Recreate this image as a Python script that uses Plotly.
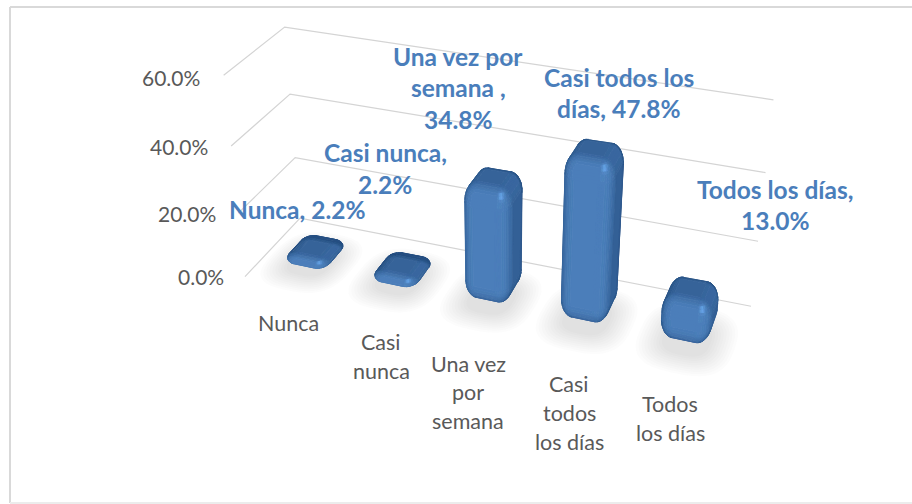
import numpy as np
import plotly.graph_objects as go

# ---- data ----
categories = ["Nunca", "Casi nunca", "Una vez por semana", "Casi todos los días", "Todos los días"]
values = [2.2, 2.2, 34.8, 47.8, 13.0]
tick_values = [0, 20, 40, 60]
tick_labels = ["0.0%", "20.0%", "40.0%", "60.0%"]
category_lines = [["Nunca"], ["Casi", "nunca"], ["Una vez", "por", "semana"],
                  ["Casi", "todos", "los días"], ["Todos", "los días"]]
label_lines = [["Nunca, 2.2%"], ["Casi nunca,", "2.2%"], ["Una vez por", "semana ,", "34.8%"],
               ["Casi todos los", "días, 47.8%"], ["Todos los días,", "13.0%"]]

# ---- layout of the pseudo 3D chart box ----
W, H = 912, 504
BOX_X, BOX_Z = 5.0, 60.0
CALIB = [  # (x, depth, z) -> (pixel x, pixel y) of the wall corners
    (0, 0, 60, 223, 75), (0, 0, 40, 231, 147), (0, 0, 20, 238, 212), (0, 0, 0, 246, 277),
    (0, 1, 60, 285, 27), (0, 1, 40, 291, 94), (0, 1, 20, 295, 158), (0, 1, 0, 299, 218),
    (5, 1, 60, 773, 100), (5, 1, 40, 766, 172), (5, 1, 20, 758, 242), (5, 1, 0, 751, 306),
]
TICK_POS = {0: (226, 276), 20: (218, 213), 40: (210, 146), 60: (202, 77)}
CAT_POS = [(288, [323]), (381, [342, 371]), (468, [364, 392, 421]), (569, [384, 413, 442]), (670, [404, 433])]
LABEL_POS = [(297, [209]), (385, [152, 184]), (458, [56, 87, 119]), (619, [77, 108]), (775, [189, 220])]
FONT = "Lato"
GRID = "#d4d4d4"
TEXT = "#595959"
LABEL = "#4a7ebb"
BORDER = "#d9d9d9"


def solve_camera():
    rows = []
    for x, y, z, u, v in CALIB:
        X = [x / BOX_X, y, z / BOX_Z, 1.0]
        u, v = u / 500.0, v / 500.0
        rows.append(X + [0, 0, 0, 0] + [-u * c for c in X])
        rows.append([0, 0, 0, 0] + X + [-v * c for c in X])
    _, _, vt = np.linalg.svd(np.array(rows))
    return vt[-1].reshape(3, 4)


CAM = solve_camera()


def project(x, y, z):
    X = np.stack([np.asarray(x, float) / BOX_X, np.asarray(y, float), np.asarray(z, float) / BOX_Z,
                  np.ones_like(np.asarray(x, float))])
    p = CAM @ X
    return p[0] / p[2] * 500.0, p[1] / p[2] * 500.0


def hex_mix(a, b, t):
    return a + (b - a) * t


DARK = np.array([0x24, 0x4e, 0x80], float)
LIGHT = np.array([0x4c, 0x80, 0xbc], float)
SPEC = np.array([0x68, 0xa8, 0xee], float)
L = np.array([0.22, -0.90, 0.30]); L /= np.linalg.norm(L)
HV = np.array([0.34, -0.62, 0.70]); HV /= np.linalg.norm(HV)


def shade(n):
    n = n / max(np.linalg.norm(n), 1e-9)
    d = max(0.0, float(n @ L))
    s = max(0.0, float(n @ HV)) ** 60
    c = hex_mix(DARK, LIGHT, d ** 0.7)
    c = hex_mix(c, SPEC, min(1.0, s))
    c = np.round(c / 3) * 3
    c = np.clip(c, 0, 255).astype(int)
    return "#%02x%02x%02x" % tuple(c)


def bar_faces(cx, cy, height, hx=0.24, hy=0.225, r=0.125, k=10, m=10):
    rz = min(5.5, height / 2.0)
    ring = []
    for q, (sx, sy) in enumerate([(1, 1), (-1, 1), (-1, -1), (1, -1)]):
        for a in np.linspace(q * np.pi / 2, (q + 1) * np.pi / 2, k + 1):
            ring.append((a, sx * (hx - r), sy * (hy - r)))
    rowsz = []
    for ph in np.linspace(-np.pi / 2, 0, m + 1):
        rowsz.append((ph, rz))
    for ph in np.linspace(0, np.pi / 2, m + 1):
        rowsz.append((ph, height - rz))

    def vert(i, j):
        a, ox, oy = ring[i % len(ring)]
        ph, zc = rowsz[j]
        nrm = np.array([np.cos(ph) * np.cos(a), np.cos(ph) * np.sin(a), np.sin(ph)])
        return (cx + ox + r * nrm[0], cy + oy + r * nrm[1], zc + rz * nrm[2]), nrm

    faces = []
    for j in range(len(rowsz) - 1):
        for i in range(len(ring)):
            vs = [vert(i, j), vert(i + 1, j), vert(i + 1, j + 1), vert(i, j + 1)]
            faces.append(([v[0] for v in vs], sum(v[1] for v in vs)))
    cap = [vert(i, len(rowsz) - 1)[0] for i in range(len(ring))]
    faces.append((cap, np.array([0.0, 0.0, 1.0])))
    return faces


def signed_area(px, py):
    return 0.5 * float(np.sum(px * np.roll(py, -1) - np.roll(px, -1) * py))


fig = go.Figure()

# gridlines on the two walls
gx, gy = [], []
for t in tick_values:
    px, py = project([0, 0, BOX_X], [0, 1, 1], [t, t, t])
    gx += list(px) + [None]
    gy += list(py) + [None]
fig.add_trace(go.Scatter(x=gx, y=gy, mode="lines", line=dict(color=GRID, width=1.2),
                         hoverinfo="skip", showlegend=False))

# soft floor shadows
centres = [i + 0.5 for i in range(len(values))]
for layer in range(10):
    grow = 0.46 - layer * 0.026
    sx, sy = [], []
    a = np.linspace(0, 2 * np.pi, 49)
    for c in centres:
        ex = np.sign(np.cos(a)) * np.abs(np.cos(a)) ** 0.7 * grow + c + 0.02
        ey = np.sign(np.sin(a)) * np.abs(np.sin(a)) ** 0.7 * grow + 0.5 - 0.10
        px, py = project(ex, ey, np.zeros_like(ex))
        sx += list(px) + [None]
        sy += list(py) + [None]
    fig.add_trace(go.Scatter(x=sx, y=sy, mode="none", fill="toself", fillcolor="rgba(90,90,90,0.02)",
                             hoverinfo="skip", showlegend=False))

# rounded columns: every visible facet goes into a bucket of its shade
buckets = {}
for c, v in zip(centres, values):
    for verts, nrm in bar_faces(c, 0.5, v):
        arr = np.array(verts)
        px, py = project(arr[:, 0], arr[:, 1], arr[:, 2])
        if signed_area(px, py) >= -1e-6:
            continue
        col = shade(nrm)
        b = buckets.setdefault(col, ([], []))
        b[0].extend(list(px) + [px[0], None])
        b[1].extend(list(py) + [py[0], None])
for col, (bx, by) in buckets.items():
    fig.add_trace(go.Scatter(x=bx, y=by, mode="lines", fill="toself", fillcolor=col,
                             line=dict(color=col, width=0.8), hoverinfo="skip", showlegend=False))

# texts
ann = []
for t, lab in zip(tick_values, tick_labels):
    xr, yc = TICK_POS[t]
    ann.append(dict(x=xr, y=yc, text=lab, xanchor="right", yanchor="middle", showarrow=False,
                    font=dict(family=FONT, size=21, color=TEXT)))
for lines, (xc, ys) in zip(category_lines, CAT_POS):
    for line, yc in zip(lines, ys):
        ann.append(dict(x=xc, y=yc, text=line, xanchor="center", yanchor="middle", showarrow=False,
                        font=dict(family=FONT, size=21.5, color=TEXT)))
for lines, (xc, ys) in zip(label_lines, LABEL_POS):
    for line, yc in zip(lines, ys):
        ann.append(dict(x=xc, y=yc, text="<b>%s</b>" % line, xanchor="center", yanchor="middle", showarrow=False,
                        font=dict(family=FONT, size=24.5, color=LABEL)))

fig.update_layout(
    width=W, height=H, margin=dict(l=0, r=0, t=0, b=0), paper_bgcolor="white", plot_bgcolor="white",
    xaxis=dict(range=[0, W], visible=False, fixedrange=True),
    yaxis=dict(range=[H, 0], visible=False, fixedrange=True),
    annotations=ann, showlegend=False,
    shapes=[
        dict(type="line", x0=10, x1=10, y0=7, y1=503, line=dict(color=BORDER, width=2)),
        dict(type="line", x0=10, x1=912, y0=7, y1=7, line=dict(color=BORDER, width=2)),
        dict(type="line", x0=10, x1=912, y0=503, y1=503, line=dict(color="#ececec", width=2)),
    ],
)
fig.write_html("out.html", post_script="document.body.style.margin='0';document.body.style.overflow='hidden';",
               config={"displayModeBar": False})
